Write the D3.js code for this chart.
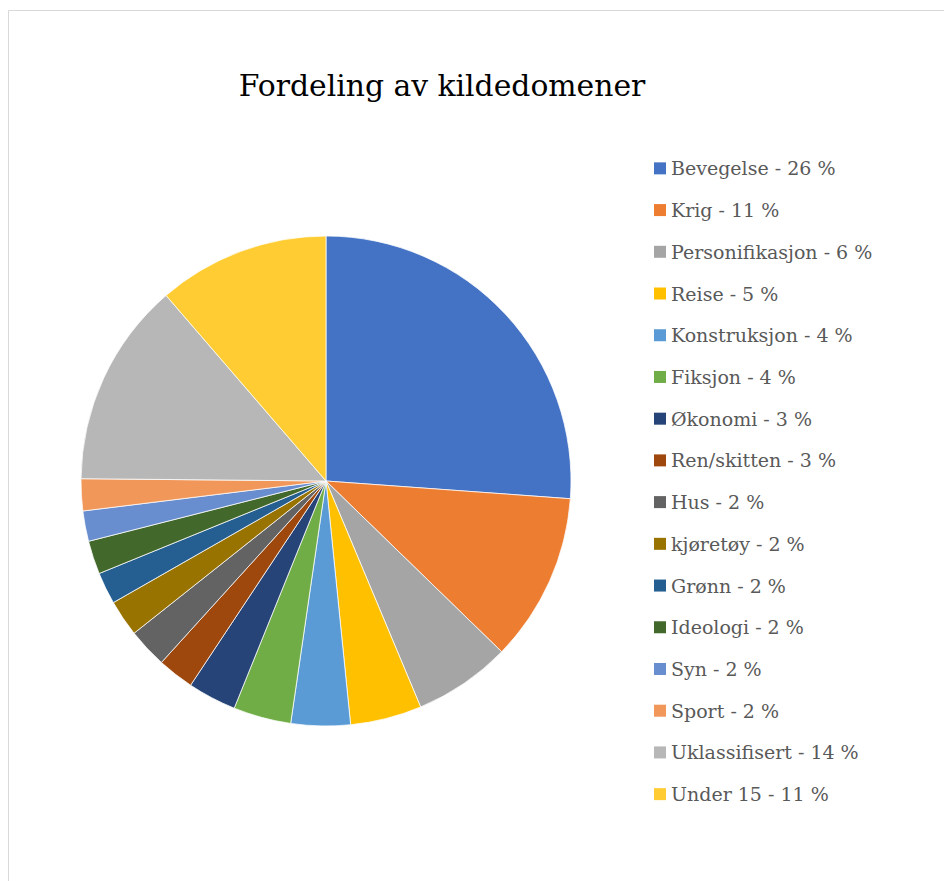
<!DOCTYPE html>
<html>
<head>
<meta charset="utf-8">
<script src="https://cdn.jsdelivr.net/npm/d3@7"></script>
<style>
  body { margin: 0; background: #fff; }
  svg { display: block; }
  svg text { font-family: 'DejaVu Serif'; }
</style>
</head>
<body>
<svg id="chart" width="944" height="881"></svg>
<script>
// Kildedomener, i den rekkefølgen de står i forklaringen
var categories = ['Bevegelse', 'Krig', 'Personifikasjon', 'Reise', 'Konstruksjon', 'Fiksjon',
  'Økonomi', 'Ren/skitten', 'Hus', 'kjøretøy', 'Grønn', 'Ideologi', 'Syn', 'Sport',
  'Uklassifisert', 'Under 15'];
// andel (%) lest av sektorene
var values = [26.1, 11.1, 6.4, 4.7, 3.9, 3.8, 3.2, 2.4, 2.6, 2.4, 2.1, 2.2, 2.0, 2.1, 13.5, 11.3];
// avrundet prosent som vist i forklaringen
var labels = ['26 %', '11 %', '6 %', '5 %', '4 %', '4 %', '3 %', '3 %', '2 %', '2 %', '2 %',
  '2 %', '2 %', '2 %', '14 %', '11 %'];
var colors = ['#4472c4', '#ed7d31', '#a5a5a5', '#ffc000', '#5b9bd5', '#70ad47',
  '#264478', '#9e480e', '#636363', '#997300', '#255e91', '#43682b',
  '#698ed0', '#f1975a', '#b7b7b7', '#ffcd33'];

var svg = d3.select('#chart');

// ytre ramme
svg.append('path')
  .attr('d', 'M8.5,881 L8.5,10.5 L944,10.5')
  .attr('fill', 'none')
  .attr('stroke', '#d9d9d9')
  .attr('stroke-width', 1);

svg.append('text')
  .attr('x', 442)
  .attr('y', 96)
  .attr('text-anchor', 'middle')
  .attr('font-size', 29.8)
  .attr('fill', '#000')
  .text('Fordeling av kildedomener');

var data = categories.map(function(c, i) {
  return { name: c, value: values[i], label: labels[i], color: colors[i] };
});

var pie = d3.pie()
  .sort(null)
  .value(function(d) { return d.value; });

var arc = d3.arc()
  .innerRadius(0)
  .outerRadius(245);

var g = svg.append('g')
  .attr('transform', 'translate(326,481)');

g.selectAll('path')
    .data(pie(data))
  .enter().append('path')
    .attr('d', arc)
    .attr('fill', function(d) { return d.data.color; })
    .attr('stroke', '#fff')
    .attr('stroke-width', 0.75);

// forklaring
var y = d3.scaleBand()
  .domain(categories)
  .range([147.5, 815])
  .paddingInner(0);

var legend = svg.append('g');
var item = legend.selectAll('g')
    .data(data)
  .enter().append('g')
    .attr('transform', function(d) {
      return 'translate(654,' + (y(d.name) + y.bandwidth() / 2) + ')';
    });

item.append('rect')
  .attr('x', 0)
  .attr('y', -6)
  .attr('width', 12)
  .attr('height', 12)
  .attr('fill', function(d) { return d.color; });

item.append('text')
  .attr('x', 17)
  .attr('y', 7)
  .attr('font-size', 19)
  .attr('fill', '#595959')
  .text(function(d) { return d.name + ' - ' + d.label; });
</script>
</body>
</html>
